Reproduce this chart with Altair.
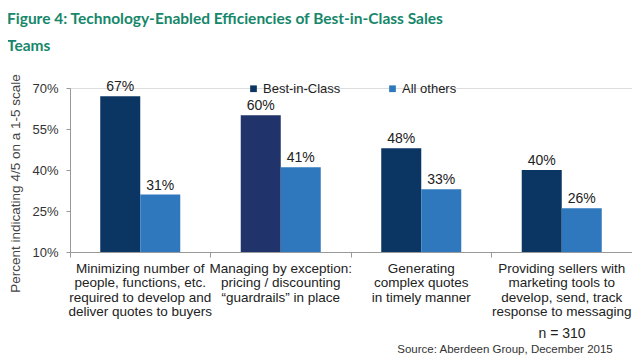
import altair as alt
import pandas as pd

categories = [
    "Minimizing number of|people, functions, etc.|required to develop and|deliver quotes to buyers",
    "Managing by exception:|pricing / discounting|\u201cguardrails\u201d in place",
    "Generating|complex quotes|in timely manner",
    "Providing sellers with|marketing tools to|develop, send, track|response to messaging",
]
series = ["Best-in-Class", "All others"]
best_values = [67, 60, 48, 40]
other_values = [31, 41, 33, 26]
notes = ["n = 310", "Source: Aberdeen Group, December 2015"]

rows = []
for i, c in enumerate(categories):
    rows.append({"category": c, "series": series[0], "value": best_values[i], "idx": i})
    rows.append({"category": c, "series": series[1], "value": other_values[i], "idx": i})
df = pd.DataFrame(rows)

W, H = 562, 164
FONT = "Liberation Sans"

base = alt.Chart(df).encode(
    x=alt.X("category:N", sort=categories, title=None,
            scale=alt.Scale(paddingInner=0, paddingOuter=0),
            axis=alt.Axis(labelExpr="split(datum.label, '|')", labelAngle=0,
                          labelFont=FONT, labelFontSize=13.5, labelColor="#222",
                          labelLineHeight=14.5, labelPadding=4, labelLimit=300,
                          bandPosition=0, tickSize=5, tickColor="#999",
                          domainColor="#999", labelBaseline="top")),
    xOffset=alt.XOffset("series:N", sort=series,
                        scale=alt.Scale(paddingInner=0, paddingOuter=0.756)),
)

bars = base.mark_bar().encode(
    y=alt.Y("value:Q", title="Percent indicating 4/5 on a 1-5 scale",
            scale=alt.Scale(domain=[10, 70], zero=False),
            axis=alt.Axis(values=[10, 25, 40, 55, 70], labelExpr="datum.value + '%'",
                          grid=False, labelFont=FONT, labelFontSize=13, labelColor="#333",
                          titleFont=FONT, titleFontSize=13.5, titleFontWeight="normal",
                          titleColor="#444", titlePadding=9, titleY=95, tickSize=4,
                          tickColor="#999", domainColor="#999", labelPadding=8)),
    y2=alt.datum(10),
    color=alt.condition(
        "datum.idx == 1 && datum.series == 'Best-in-Class'",
        alt.value("#20336a"),
        alt.Color("series:N", sort=series, title=None,
                  scale=alt.Scale(domain=series, range=["#0b3563", "#2f78bd"]),
                  legend=alt.Legend(orient="none", legendX=177, legendY=-6,
                                    direction="horizontal", symbolType="square",
                                    symbolSize=45, labelFont=FONT, labelFontSize=13,
                                    labelColor="#222", columnPadding=45, labelOffset=3,
                                    symbolStrokeWidth=0)),
    ),
)

labels = base.mark_text(baseline="bottom", dy=-2, font=FONT, fontSize=14, color="#222").encode(
    y=alt.Y("value:Q"),
    text=alt.Text("label:N"),
).transform_calculate(label="datum.value + '%'")

note_df = pd.DataFrame({"t": notes, "k": [0, 1]})
n_text = alt.Chart(note_df).transform_filter("datum.k == 0").mark_text(
    font=FONT, fontSize=14, color="#222", align="center").encode(
    text="t:N", x=alt.value(492), y=alt.value(246))
src_text = alt.Chart(note_df).transform_filter("datum.k == 1").mark_text(
    font=FONT, fontSize=11.5, color="#333", align="center").encode(
    text="t:N", x=alt.value(435), y=alt.value(262))

chart = alt.layer(bars, labels, n_text, src_text).properties(
    width=W, height=H,
    autosize=alt.AutoSizeParams(type="none"),
    padding={"left": 62, "top": 80, "right": 0, "bottom": 104},
    title=alt.Title(
        ["Figure 4: Technology-Enabled Efficiencies of Best-in-Class Sales", "Teams"],
        anchor="start", frame="group", dx=-63, offset=19, font="Lato",
        fontSize=15.5, fontWeight="bold", color="#16876a", lineHeight=27),
).configure_view(stroke=None).configure(background="white")

chart.save("out.html", embed_options={"renderer": "svg", "actions": False})
